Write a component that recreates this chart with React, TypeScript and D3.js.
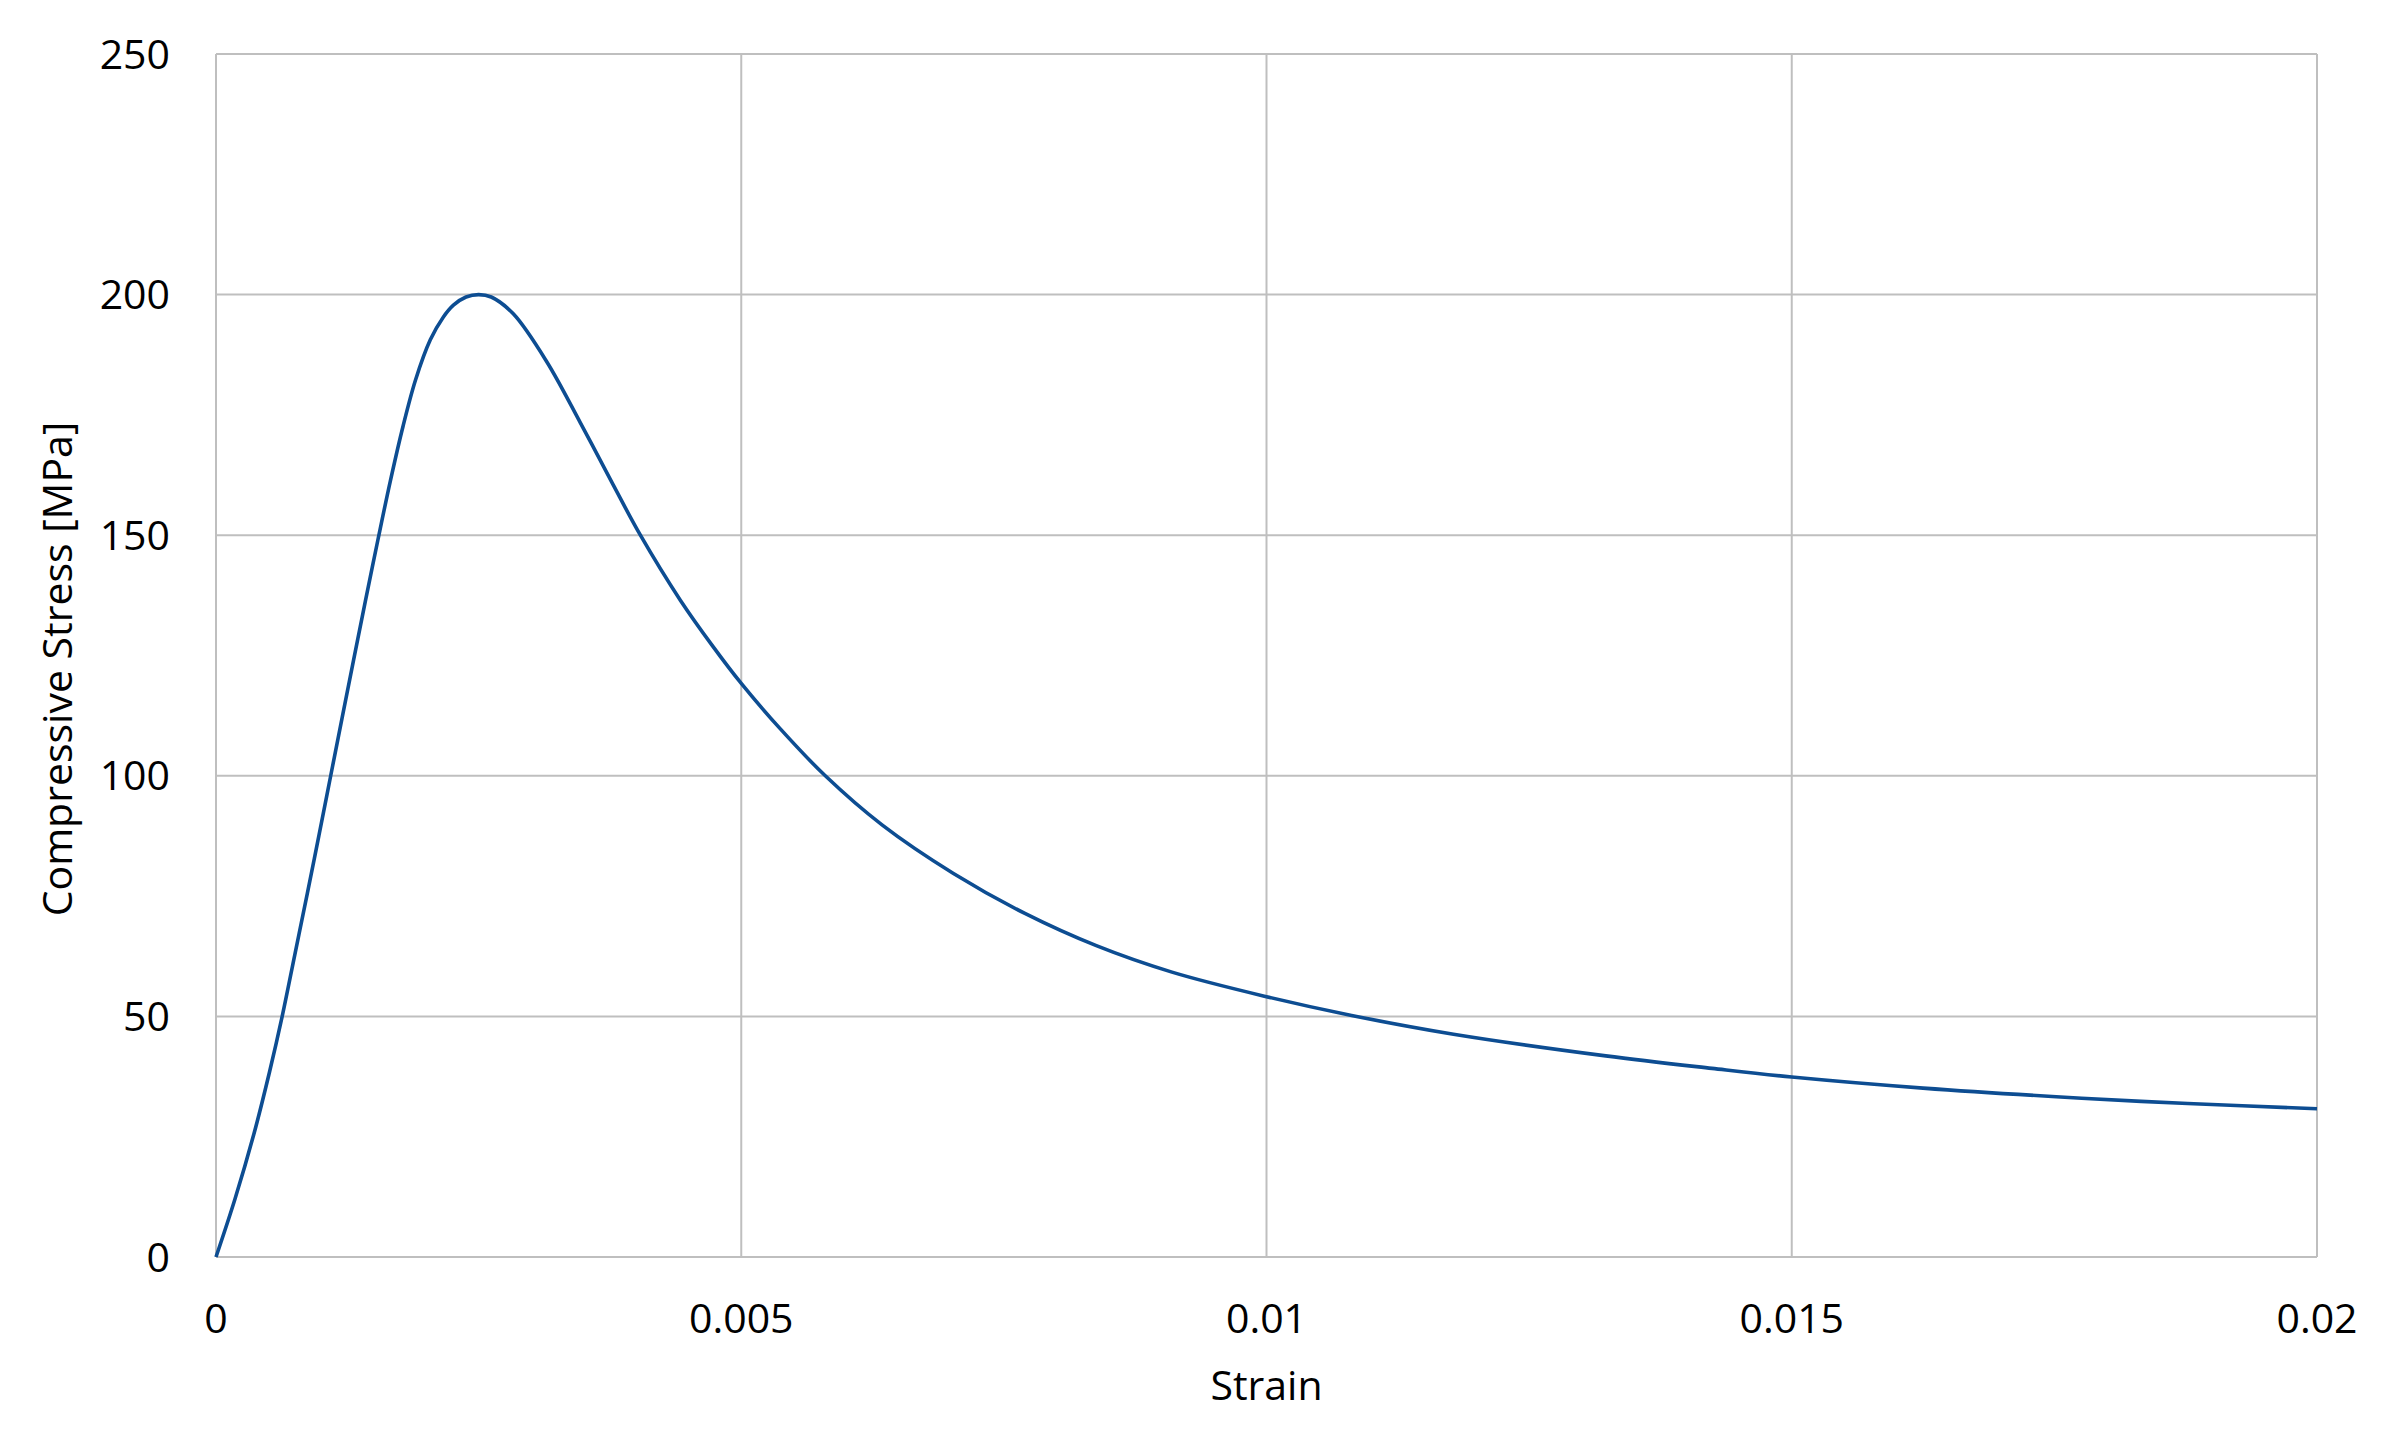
import React from 'react';
import * as d3 from 'd3';

// strain / compressive stress points
const strain = [
  0, 0.00018, 0.00036, 0.00051, 0.00063, 0.00075, 0.00087, 0.00098, 0.00109,
  0.0012, 0.00131, 0.00142, 0.00154, 0.00166, 0.00178, 0.0019, 0.00204,
  0.00216, 0.00226, 0.00238, 0.0025, 0.00262, 0.00283, 0.00315, 0.00347,
  0.00378, 0.00404, 0.00442, 0.00473, 0.005, 0.00537, 0.0058, 0.00634,
  0.00702, 0.0077, 0.00838, 0.0091, 0.01, 0.01081, 0.01178, 0.01323, 0.01424,
  0.015, 0.01625, 0.01776, 0.01877, 0.02,
];
const stress = [
  0, 12, 25.5, 38.5, 50, 62.8, 75.6, 87.6, 99.8, 112, 124.1, 136.1, 148.9,
  161.3, 172.6, 182.3, 190.6, 195.2, 197.8, 199.5, 200, 199.5, 196, 186,
  173.3, 160.5, 150, 136.5, 126.9, 119.2, 109.8, 100, 89.8, 79.7, 71.4, 64.7,
  59.2, 54.1, 50.2, 46.3, 41.8, 39.2, 37.4, 35.1, 33, 31.9, 30.8,
];

const xTicks = [0, 0.005, 0.01, 0.015, 0.02];
const xTickLabels = ['0', '0.005', '0.01', '0.015', '0.02'];
const yTicks = [0, 50, 100, 150, 200, 250];

const xTitle = 'Strain';
const yTitle = 'Compressive Stress [MPa]';

const W = 2404;
const H = 1429;
const margin = { top: 54, right: 87, bottom: 172, left: 216 };
const font = '"Open Sans", sans-serif';
const grid = '#bfbfbf';

export default function App() {
  const innerW = W - margin.left - margin.right;
  const innerH = H - margin.top - margin.bottom;

  const x = d3.scaleLinear().domain([0, 0.02]).range([0, innerW]);
  const y = d3.scaleLinear().domain([0, 250]).range([innerH, 0]);

  const points = strain.map((s, i) => [s, stress[i]] as [number, number]);
  const line = d3
    .line<[number, number]>()
    .x((d) => x(d[0]))
    .y((d) => y(d[1]))
    .curve(d3.curveCatmullRom.alpha(0.5));

  return (
    <svg
      width={W}
      height={H}
      style={{ position: 'absolute', left: 0, top: 0, background: '#fff' }}
      fontFamily={font}
    >
      <rect width={W} height={H} fill="#fff" />
      <g transform={`translate(${margin.left},${margin.top})`}>
        {yTicks.map((t) => (
          <line key={'gy' + t} x1={0} x2={innerW} y1={y(t)} y2={y(t)} stroke={grid} strokeWidth={2} />
        ))}
        {xTicks.map((t) => (
          <line key={'gx' + t} x1={x(t)} x2={x(t)} y1={0} y2={innerH} stroke={grid} strokeWidth={2} />
        ))}
        <path d={line(points) || ''} fill="none" stroke="#0d4d92" strokeWidth={3.6} />
        {yTicks.map((t) => (
          <text key={'ty' + t} x={-46} y={y(t) + 14.5} textAnchor="end" fontSize={41} fill="#000">
            {t}
          </text>
        ))}
        {xTicks.map((t, i) => (
          <text key={'tx' + t} x={x(t)} y={innerH + 76} textAnchor="middle" fontSize={41} fill="#000">
            {xTickLabels[i]}
          </text>
        ))}
      </g>
      <text x={margin.left + innerW / 2} y={1400} textAnchor="middle" fontSize={41} fill="#000">
        {xTitle}
      </text>
      <text transform="translate(72,669) rotate(-90)" textAnchor="middle" fontSize={41} fill="#000">
        {yTitle}
      </text>
    </svg>
  );
}
